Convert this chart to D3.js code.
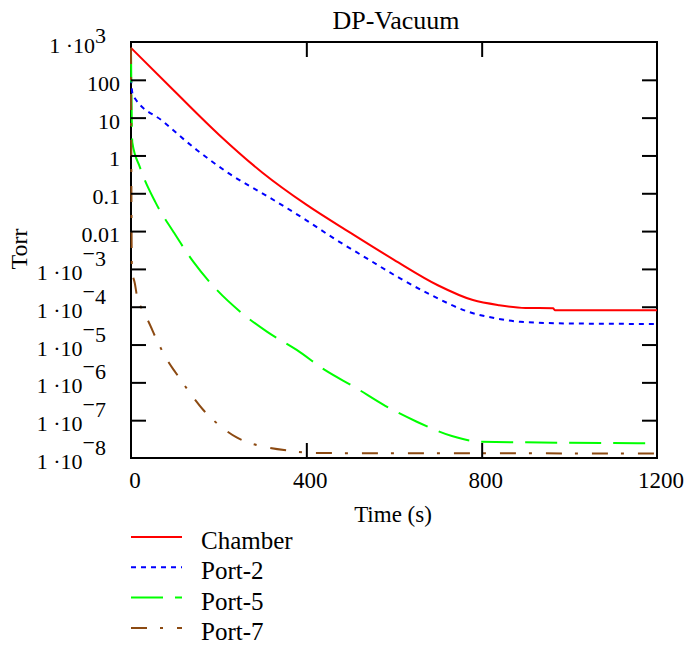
<!DOCTYPE html>
<html>
<head>
<meta charset="utf-8">
<script src="https://cdn.jsdelivr.net/npm/d3@7"></script>
<style>
    body { margin: 0; background: #fff; }
    svg { display: block; font-family: 'Times New Roman', 'Liberation Serif', serif; }
</style>
</head>
<body>
<div id="chart"></div>
<script>
// values (time in s, pressure in Torr)
const timeTicks = [0, 400, 800, 1200];
const torrTicks = [1e3, 100, 10, 1, 0.1, 0.01, 1e-3, 1e-4, 1e-5, 1e-6, 1e-7, 1e-8];
const seriesNames = ['Chamber', 'Port-2', 'Port-5', 'Port-7'];

const chamberTime = [0, 100, 200, 300, 400, 500, 600, 700, 780, 840, 900, 963, 967, 1200];
const chamberTorr = [700, 49, 3.6, 0.35, 0.05, 9.1e-3, 1.74e-3, 3.7e-4, 1.5e-4, 1.1e-4, 9.3e-5, 9.1e-5, 8.1e-5, 8.1e-5];

const port2Time = [0, 4, 74, 150, 226, 317, 401, 462, 538, 614, 690, 766, 834, 888, 1009, 1200];
const port2Torr = [110, 40, 7.8, 1.4, 0.32, 0.076, 0.019, 6.5e-3, 1.9e-3, 5.6e-4, 1.9e-4, 7.6e-5, 4.9e-5, 4.0e-5, 3.6e-5, 3.5e-5];

const port5Time = [0, 3, 20, 55, 97, 142, 192, 249, 310, 378, 443, 511, 580, 652, 732, 796, 1200];
const port5Torr = [600, 2.2, 0.5, 0.06, 9.5e-3, 1.55e-3, 3.1e-4, 7.4e-5, 2.2e-5, 7.2e-6, 2.1e-6, 7.4e-7, 2.4e-7, 9.1e-8, 3.8e-8, 2.7e-8, 2.45e-8];

const port7Time = [0, 2, 9, 14, 24, 40, 60, 85, 102, 131, 165, 201, 241, 270, 302, 363, 420, 1200];
const port7Torr = [700, 1e-3, 4e-4, 1.8e-4, 9.1e-5, 4e-5, 1.23e-5, 3.5e-6, 1.8e-6, 6e-7, 1.86e-7, 7.4e-8, 3.5e-8, 2.5e-8, 2e-8, 1.55e-8, 1.35e-8, 1.32e-8];

const width = 686;
const height = 646;
const plot = { left: 131, right: 657, top: 42, bottom: 458 };

const series = [
    { name: seriesNames[0], time: chamberTime, torr: chamberTorr, color: '#ff0000', dash: null },
    { name: seriesNames[1], time: port2Time, torr: port2Torr, color: '#0000ff', dash: '5,5' },
    { name: seriesNames[2], time: port5Time, torr: port5Torr, color: '#00ff00', dash: '32,12' },
    { name: seriesNames[3], time: port7Time, torr: port7Torr, color: '#8c4a12', dash: '16,13,3,14' }
];

const svg = d3.select('#chart')
    .append('svg')
    .attr('width', width)
    .attr('height', height);

const x = d3.scaleLinear()
    .domain([0, 1200])
    .range([plot.left, plot.right]);

const y = d3.scaleLog()
    .domain([1e-8, 1e3])
    .range([plot.bottom, plot.top]);

// frame
svg.append('rect')
    .attr('x', plot.left)
    .attr('y', plot.top)
    .attr('width', plot.right - plot.left)
    .attr('height', plot.bottom - plot.top)
    .attr('fill', 'none')
    .attr('stroke', '#000')
    .attr('stroke-width', 2);

// curves
const line = d3.line()
    .x(d => x(d[0]))
    .y(d => y(d[1]))
    .curve(d3.curveMonotoneX);

svg.append('g')
    .selectAll('path')
    .data(series)
    .join('path')
    .attr('d', s => line(d3.zip(s.time, s.torr)))
    .attr('fill', 'none')
    .attr('stroke', s => s.color)
    .attr('stroke-width', 2)
    .attr('stroke-dasharray', s => s.dash);

// inward ticks on all four sides
const innerTorr = torrTicks.slice(1, -1);
const innerTime = timeTicks.slice(1, -1);

const axes = [
    { axis: d3.axisRight(y).tickValues(innerTorr), tr: `translate(${plot.left},0)` },
    { axis: d3.axisLeft(y).tickValues(innerTorr), tr: `translate(${plot.right},0)` },
    { axis: d3.axisTop(x).tickValues(innerTime), tr: `translate(0,${plot.bottom})` },
    { axis: d3.axisBottom(x).tickValues(innerTime), tr: `translate(0,${plot.top})` }
];

axes.forEach(a => {
    const g = svg.append('g')
        .attr('transform', a.tr)
        .call(a.axis.tickSize(15).tickFormat(''));
    g.select('.domain').remove();
    g.selectAll('.tick line')
        .attr('stroke', '#000')
        .attr('stroke-width', 2);
});

// y tick labels, Mathcad style
const yLabels = svg.append('g')
    .attr('font-size', 22)
    .attr('fill', '#000');

torrTicks.forEach(v => {
    const p = Math.round(Math.log10(v));
    const ty = y(v);
    if (p >= -2 && p <= 2) {
        yLabels.append('text')
            .attr('x', 120)
            .attr('y', ty + 11)
            .attr('text-anchor', 'end')
            .text(p >= 0 ? String(Math.pow(10, p)) : v.toFixed(-p));
    } else {
        const t = yLabels.append('text')
            .attr('x', 106)
            .attr('y', ty + 11)
            .attr('text-anchor', 'end');
        t.append('tspan').text('1 \u00b710');
        if (p < 0) {
            t.append('tspan').attr('dy', -19).text('\u2212');
            t.append('tspan').attr('dy', 5).text(String(-p));
        } else {
            t.append('tspan').attr('dy', -10).text(String(p));
        }
    }
});

// x tick labels
svg.append('g')
    .attr('font-size', 23)
    .selectAll('text')
    .data(timeTicks)
    .join('text')
    .attr('x', d => x(d) + 4)
    .attr('y', 488)
    .attr('text-anchor', 'middle')
    .text(d => d);

// titles
svg.append('text')
    .attr('x', 396)
    .attr('y', 29)
    .attr('text-anchor', 'middle')
    .attr('font-size', 26)
    .text('DP-Vacuum');

svg.append('text')
    .attr('x', 393)
    .attr('y', 522)
    .attr('text-anchor', 'middle')
    .attr('font-size', 23)
    .text('Time (s)');

svg.append('text')
    .attr('transform', 'translate(27,249) rotate(-90)')
    .attr('text-anchor', 'middle')
    .attr('font-size', 24)
    .text('Torr');

// legend
const legend = svg.append('g')
    .selectAll('g')
    .data(series)
    .join('g')
    .attr('transform', (d, i) => `translate(131,${537 + i * 30.3})`);

legend.append('line')
    .attr('x1', 0)
    .attr('x2', 51)
    .attr('stroke', d => d.color)
    .attr('stroke-width', 2)
    .attr('stroke-dasharray', d => d.dash);

legend.append('text')
    .attr('x', 70)
    .attr('y', 12)
    .attr('font-size', 25)
    .text(d => d.name);
</script>
</body>
</html>
